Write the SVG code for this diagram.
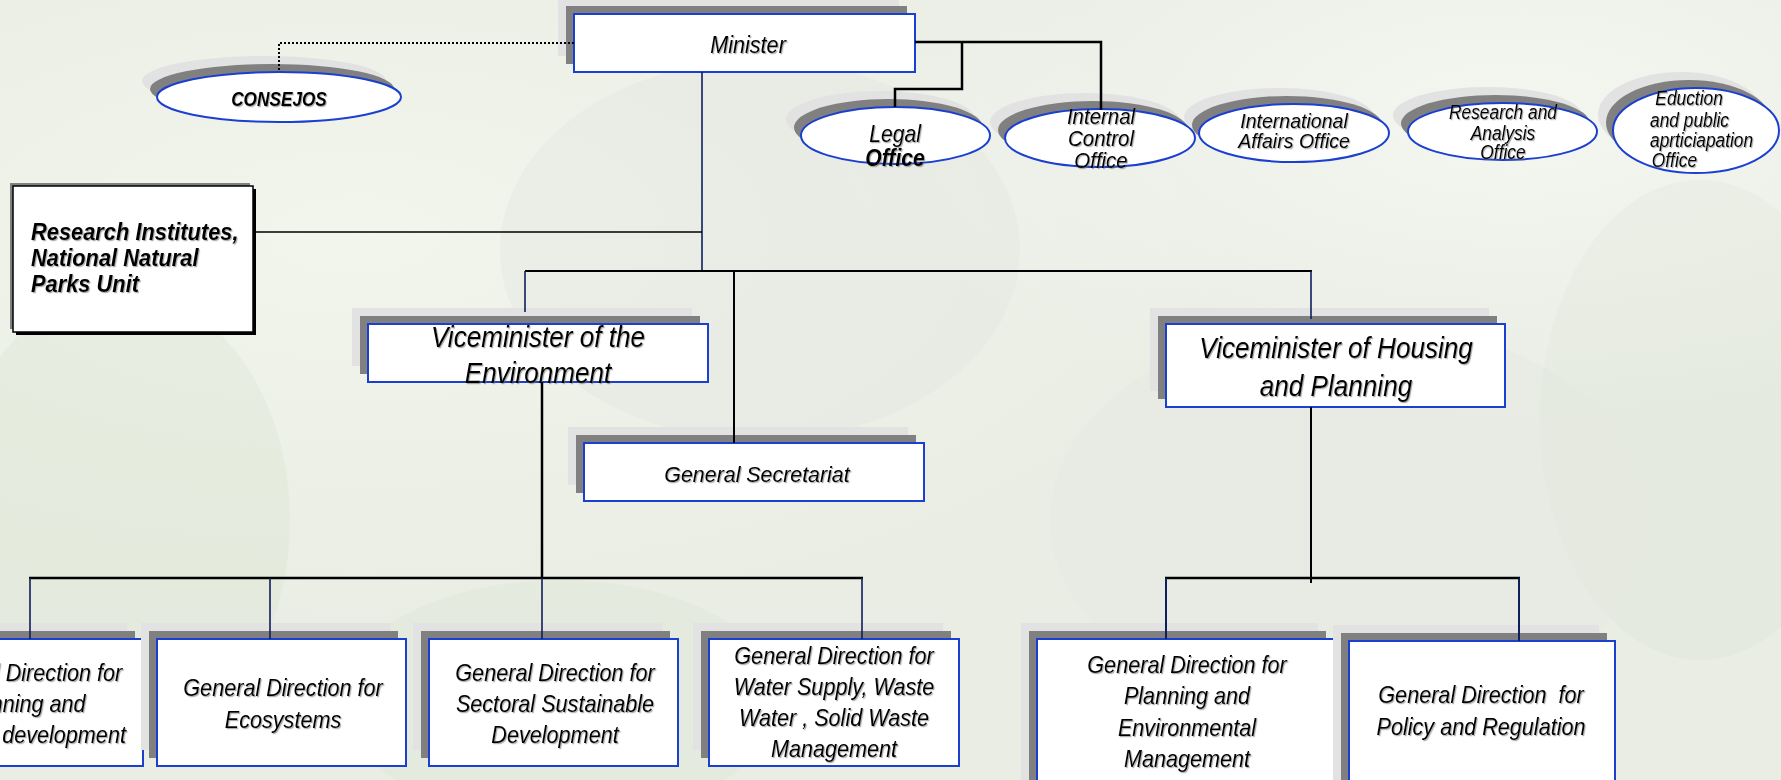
<svg xmlns="http://www.w3.org/2000/svg" width="1781" height="780" viewBox="0 0 1781 780">
<defs>
<style>
.s2{fill:#e2e2e2}
.s1{fill:#808080}
.bx{fill:#fff;stroke:#1b3fd1;stroke-width:2}
.t{font-family:"Liberation Sans",Arial,sans-serif;font-style:italic;fill:#000;text-anchor:middle;filter:url(#ts)}
.b{font-weight:bold}
.ln{fill:none;stroke:#000;stroke-width:2.5}
.thin{fill:none;stroke:#0f1f5c;stroke-width:1.6}
</style>
<filter id="ts" x="-10%" y="-30%" width="130%" height="170%">
<feDropShadow dx="1.2" dy="1.2" stdDeviation="0.5" flood-color="#666" flood-opacity="0.55"/>
</filter>
<radialGradient id="bg1" cx="0.2" cy="0.3" r="0.5">
<stop offset="0" stop-color="#f1f5ec"/>
<stop offset="1" stop-color="#f1f5ec" stop-opacity="0"/>
</radialGradient>
<radialGradient id="bg2" cx="0.85" cy="0.15" r="0.4">
<stop offset="0" stop-color="#f4f6f0"/>
<stop offset="1" stop-color="#f4f6f0" stop-opacity="0"/>
</radialGradient>
</defs>
<g id="background">
<rect x="0" y="0" width="1781" height="780" fill="#e9ede4"/>
<rect x="0" y="0" width="1781" height="780" fill="url(#bg1)"/>
<rect x="0" y="0" width="1781" height="780" fill="url(#bg2)"/>
<ellipse cx="120" cy="520" rx="170" ry="230" fill="#dbe5d2" opacity="0.4"/>
<ellipse cx="760" cy="250" rx="260" ry="190" fill="#e3e5e0" opacity="0.4"/>
<ellipse cx="1350" cy="520" rx="300" ry="200" fill="#e6e9e2" opacity="0.4"/>
<ellipse cx="560" cy="700" rx="220" ry="120" fill="#dfe7d7" opacity="0.4"/>
<ellipse cx="1700" cy="420" rx="160" ry="240" fill="#dfe6d8" opacity="0.3"/>
</g>

<g id="n-consejos">
<ellipse class="s2" cx="264" cy="81" rx="122" ry="25"/>
<ellipse class="s1" cx="272" cy="89" rx="122" ry="25"/>
<ellipse class="bx" cx="279" cy="97" rx="122" ry="25"/>
<text class="t b" font-size="21" transform="translate(279,106) scale(0.82,1)" x="0" y="0">CONSEJOS</text>
</g>

<g id="n-minister">
<rect class="s2" x="558" y="-2" width="341" height="58"/>
<rect class="s1" x="566" y="6" width="341" height="58"/>
<rect class="bx" x="574" y="14" width="341" height="58"/>
<text class="t" font-size="23" transform="translate(748,53) scale(0.94,1)" x="0" y="0">Minister</text>
</g>

<g id="n-legal">
<ellipse class="s2" cx="880.5" cy="119.5" rx="94.5" ry="28.5"/>
<ellipse class="s1" cx="888.5" cy="127.5" rx="94.5" ry="28.5"/>
<ellipse class="bx" cx="895.5" cy="135.5" rx="94.5" ry="28.5"/>
<text class="t" font-size="23" transform="translate(895,0) scale(0.92,1)"><tspan x="0" y="142">Legal</tspan><tspan class="b" x="0" y="166" font-weight="bold">Office</tspan></text>
</g>

<g id="n-internal">
<ellipse class="s2" cx="1085" cy="122" rx="95" ry="29"/>
<ellipse class="s1" cx="1093" cy="130" rx="95" ry="29"/>
<ellipse class="bx" cx="1100" cy="138" rx="95" ry="29"/>
<text class="t" font-size="22" transform="translate(1101,0) scale(0.93,1)"><tspan x="0" y="124">Internal</tspan><tspan x="0" y="146">Control</tspan><tspan x="0" y="168">Office</tspan></text>
</g>

<g id="n-international">
<ellipse class="s2" cx="1279" cy="117" rx="95" ry="29"/>
<ellipse class="s1" cx="1287" cy="125" rx="95" ry="29"/>
<ellipse class="bx" cx="1294" cy="133" rx="95" ry="29"/>
<text class="t" font-size="21" transform="translate(1294,0) scale(0.93,1)"><tspan x="0" y="128">International</tspan><tspan x="0" y="148">Affairs Office</tspan></text>
</g>

<g id="n-research-analysis">
<ellipse class="s2" cx="1487.5" cy="115.5" rx="94.5" ry="28.5"/>
<ellipse class="s1" cx="1495.5" cy="123.5" rx="94.5" ry="28.5"/>
<ellipse class="bx" cx="1502.5" cy="131.5" rx="94.5" ry="28.5"/>
<text class="t" font-size="19.5" transform="translate(1503,0) scale(0.89,1)"><tspan x="0" y="119">Research and</tspan><tspan x="0" y="140">Analysis</tspan><tspan x="0" y="159">Office</tspan></text>
</g>

<g id="n-education">
<ellipse class="s2" cx="1681" cy="114.5" rx="83" ry="42.5"/>
<ellipse class="s1" cx="1689" cy="122.5" rx="83" ry="42.5"/>
<ellipse class="bx" cx="1696" cy="130.5" rx="83" ry="42.5"/>
<text class="t" font-size="19.5" style="text-anchor:start" transform="translate(1650,0) scale(0.89,1)"><tspan x="6" y="105">Eduction</tspan><tspan x="0" y="127">and public</tspan><tspan x="0" y="147">aprticiapation</tspan><tspan x="2" y="167">Office</tspan></text>
</g>

<g id="n-research-institutes">
<rect x="10" y="183" width="240" height="146" fill="#808080"/>
<rect x="16" y="189" width="240" height="146" fill="#000"/>
<rect x="13" y="186" width="240" height="146" fill="#fff" stroke="#000" stroke-width="1.5"/>
<text class="t b" font-size="23" style="text-anchor:start" transform="translate(31,0) scale(0.95,1)"><tspan x="0" y="240">Research Institutes,</tspan><tspan x="0" y="266">National Natural</tspan><tspan x="0" y="292">Parks Unit</tspan></text>
</g>

<g id="n-vice-env">
<rect class="s2" x="352" y="308" width="340" height="58"/>
<rect class="s1" x="360" y="316" width="340" height="58"/>
<rect class="bx" x="368" y="324" width="340" height="58"/>
<text class="t" font-size="29" transform="translate(538,0) scale(0.9,1)"><tspan x="0" y="347">Viceminister of the</tspan><tspan x="0" y="383">Environment</tspan></text>
</g>

<g id="n-gen-sec">
<rect class="s2" x="568" y="427" width="340" height="58"/>
<rect class="s1" x="576" y="435" width="340" height="58"/>
<rect class="bx" x="584" y="443" width="340" height="58"/>
<text class="t" font-size="23" transform="translate(757,482) scale(0.93,1)" x="0" y="0">General Secretariat</text>
</g>

<g id="n-vice-housing">
<rect class="s2" x="1150" y="308" width="339" height="83"/>
<rect class="s1" x="1158" y="316" width="339" height="83"/>
<rect class="bx" x="1166" y="324" width="339" height="83"/>
<text class="t" font-size="29" transform="translate(1336,0) scale(0.9,1)"><tspan x="0" y="358">Viceminister of Housing</tspan><tspan x="0" y="396">and Planning</tspan></text>
</g>

<g id="n-gd-planning-dev">
<rect class="s2" x="-123" y="623" width="250" height="127"/>
<rect class="s1" x="-115" y="631" width="250" height="127"/>
<rect class="bx" x="-107" y="639" width="250" height="127"/>
<text class="t" font-size="23" transform="translate(22.5,0) scale(0.94,1)"><tspan x="0" y="681">General Direction for</tspan><tspan x="0" y="712">Planning and</tspan><tspan x="110" y="743" style="text-anchor:end">development</tspan></text>
</g>

<g id="n-gd-ecosystems">
<rect class="s2" x="141" y="623" width="249" height="127"/>
<rect class="s1" x="149" y="631" width="249" height="127"/>
<rect class="bx" x="157" y="639" width="249" height="127"/>
<text class="t" font-size="23" transform="translate(283,0) scale(0.94,1)"><tspan x="0" y="696">General Direction for</tspan><tspan x="0" y="728">Ecosystems</tspan></text>
</g>

<g id="n-gd-sectoral">
<rect class="s2" x="413" y="623" width="249" height="127"/>
<rect class="s1" x="421" y="631" width="249" height="127"/>
<rect class="bx" x="429" y="639" width="249" height="127"/>
<text class="t" font-size="23" transform="translate(555,0) scale(0.94,1)"><tspan x="0" y="681">General Direction for</tspan><tspan x="0" y="712">Sectoral Sustainable</tspan><tspan x="0" y="743">Development</tspan></text>
</g>

<g id="n-gd-water">
<rect class="s2" x="693" y="623" width="250" height="127"/>
<rect class="s1" x="701" y="631" width="250" height="127"/>
<rect class="bx" x="709" y="639" width="250" height="127"/>
<text class="t" font-size="23" transform="translate(834,0) scale(0.94,1)"><tspan x="0" y="664">General Direction for</tspan><tspan x="0" y="695">Water Supply, Waste</tspan><tspan x="0" y="726">Water , Solid Waste</tspan><tspan x="0" y="757">Management</tspan></text>
</g>

<g id="n-gd-planning-env">
<rect class="s2" x="1021" y="623" width="297" height="170"/>
<rect class="s1" x="1029" y="631" width="297" height="170"/>
<rect class="bx" x="1037" y="639" width="297" height="170"/>
<text class="t" font-size="23" transform="translate(1187,0) scale(0.94,1)"><tspan x="0" y="673">General Direction for</tspan><tspan x="0" y="704">Planning and</tspan><tspan x="0" y="736">Environmental</tspan><tspan x="0" y="767">Management</tspan></text>
</g>

<g id="n-gd-policy">
<rect class="s2" x="1333" y="625" width="266" height="170"/>
<rect class="s1" x="1341" y="633" width="266" height="170"/>
<rect class="bx" x="1349" y="641" width="266" height="170"/>
<text class="t" font-size="23" xml:space="preserve" transform="translate(1481,0) scale(0.94,1)"><tspan x="0" y="703">General Direction  for</tspan><tspan x="0" y="735">Policy and Regulation</tspan></text>
</g>

<g id="connectors">
<path d="M574,43 H279 V72" fill="none" stroke="#000" stroke-width="2" stroke-dasharray="2,2"/>
<path class="ln" d="M915,42 H1101 V110"/>
<path class="ln" d="M962,42 V89 H895 V107"/>
<path class="thin" d="M702,72 V271"/>
<path d="M253,232 H702" fill="none" stroke="#000" stroke-width="1.4"/>
<path class="ln" style="stroke-width:2" d="M525,271 H1312"/>
<path class="thin" d="M525,271 V312"/>
<path class="ln" style="stroke-width:2" d="M734,271 V443"/>
<path class="thin" d="M1311,271 V319"/>
<path class="ln" d="M542,382 V578"/>
<path class="ln" d="M29,578 H863"/>
<path class="thin" d="M30,578 V639 M270,578 V639 M542,578 V639 M862,578 V639"/>
<path class="ln" style="stroke-width:2" d="M1311,407 V583"/>
<path class="ln" d="M1165,578 H1520"/>
<path class="thin" style="stroke-width:2" d="M1166,578 V639 M1519,578 V641"/>
</g>
</svg>
